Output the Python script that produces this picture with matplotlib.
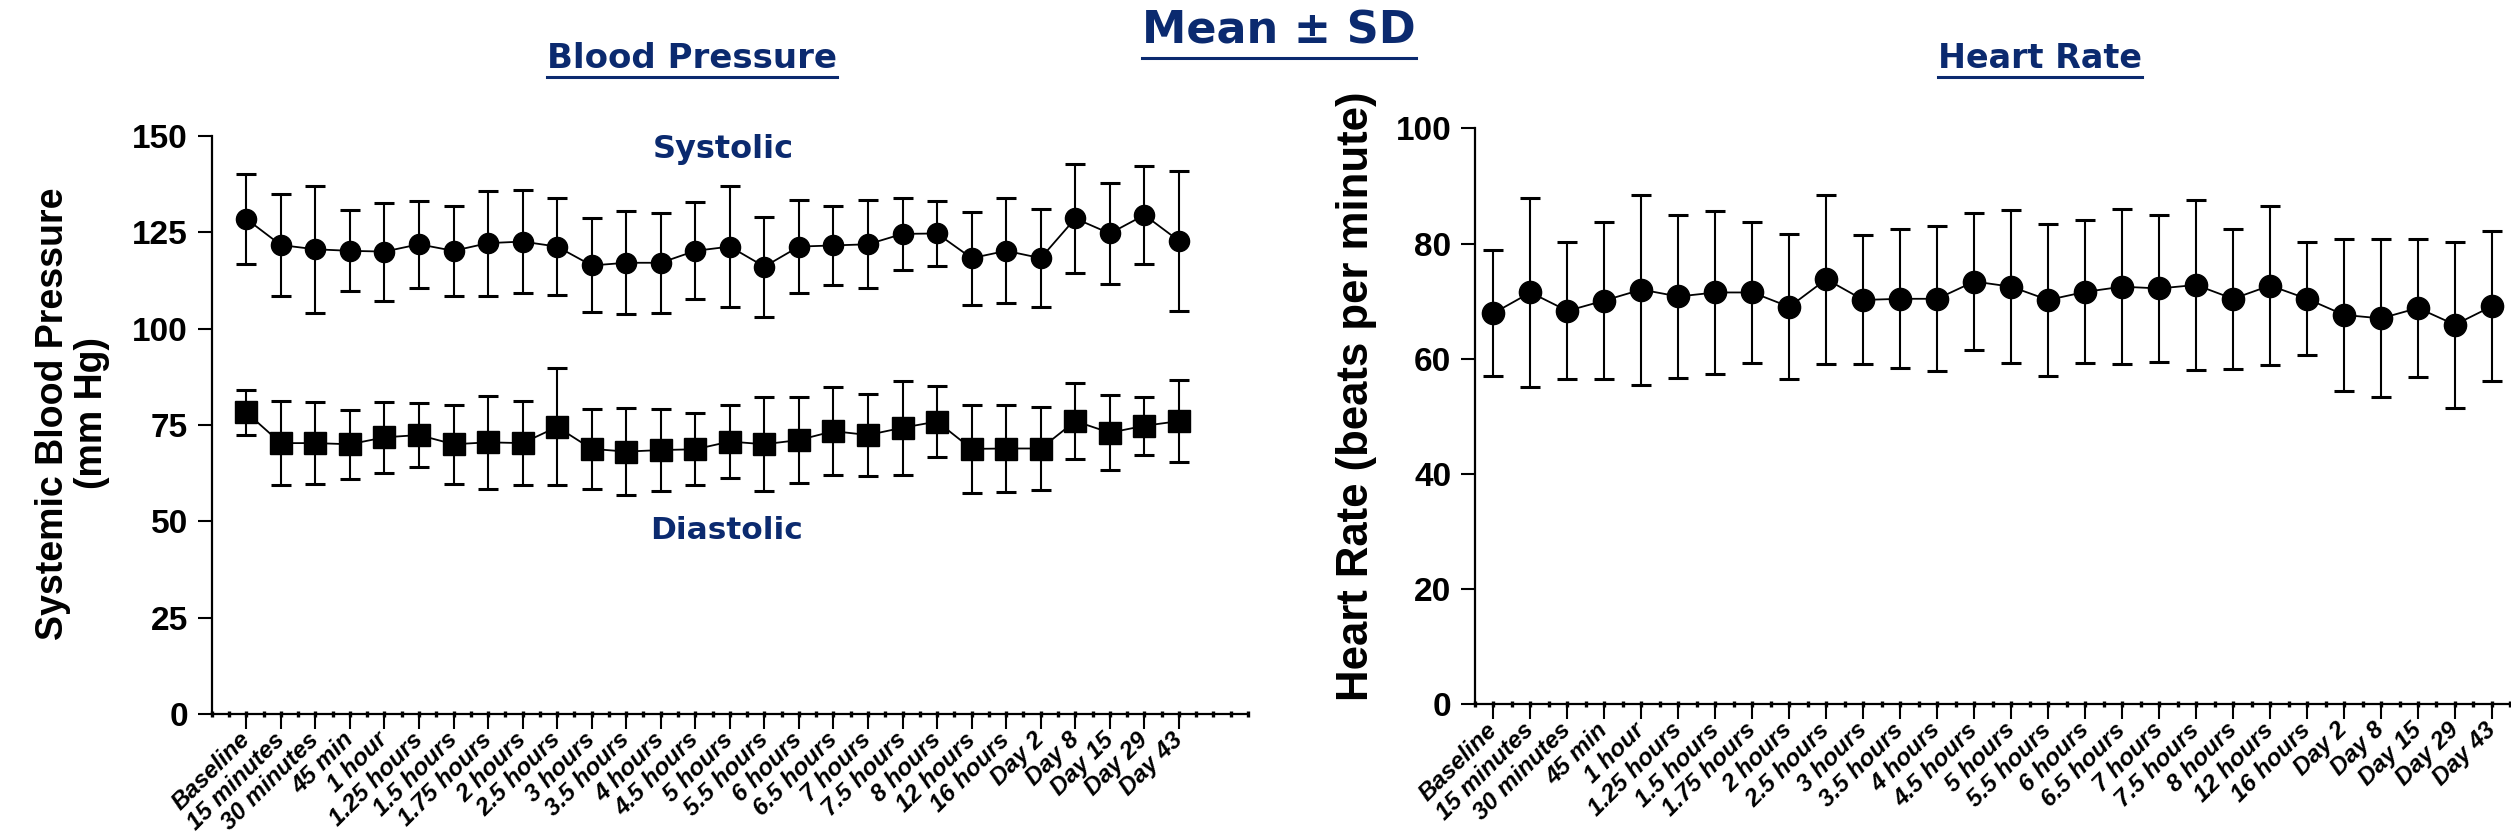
import numpy as np
import matplotlib.pyplot as plt
from matplotlib.lines import Line2D

time_labels = ['Baseline', '15 minutes', '30 minutes', '45 min', '1 hour', '1.25 hours',
               '1.5 hours', '1.75 hours', '2 hours', '2.5 hours', '3 hours', '3.5 hours',
               '4 hours', '4.5 hours', '5 hours', '5.5 hours', '6 hours', '6.5 hours',
               '7 hours', '7.5 hours', '8 hours', '12 hours', '16 hours', 'Day 2',
               'Day 8', 'Day 15', 'Day 29', 'Day 43']

sys_mean = [128.5, 121.7, 120.6, 120.2, 120.0, 121.9, 120.2, 122.2, 122.6, 121.3, 116.4, 117.1,
            117.1, 120.2, 121.3, 116.1, 121.3, 121.6, 121.9, 124.6, 124.7, 118.3, 120.2, 118.3,
            128.6, 124.7, 129.5, 122.8]
sys_sd = [11.6, 13.3, 16.5, 10.5, 12.7, 11.3, 11.7, 13.6, 13.3, 12.6, 12.2, 13.4,
          13.0, 12.6, 15.7, 13.0, 12.1, 10.3, 11.4, 9.3, 8.5, 12.1, 13.6, 12.8,
          14.2, 13.0, 12.8, 18.2]

dia_mean = [78.3, 70.3, 70.3, 70.0, 71.8, 72.4, 70.0, 70.5, 70.3, 74.5, 68.8, 68.1,
            68.5, 68.7, 70.7, 70.0, 71.1, 73.4, 72.4, 74.3, 75.9, 68.8, 68.9, 68.9,
            76.0, 73.0, 74.8, 76.0]
dia_sd = [5.8, 11.0, 10.7, 9.0, 9.2, 8.4, 10.3, 12.0, 11.0, 15.2, 10.4, 11.2,
          10.6, 9.4, 9.4, 12.2, 11.2, 11.4, 10.7, 12.2, 9.3, 11.5, 11.3, 10.8,
          9.8, 9.8, 7.5, 10.7]

hr_mean = [67.9, 71.5, 68.3, 70.1, 72.0, 70.8, 71.5, 71.5, 69.0, 73.8, 70.2, 70.4,
           70.4, 73.4, 72.5, 70.2, 71.6, 72.5, 72.2, 72.8, 70.4, 72.7, 70.4, 67.6,
           67.0, 68.8, 65.9, 69.1]
hr_sd = [10.9, 16.4, 11.9, 13.6, 16.5, 14.2, 14.2, 12.2, 12.6, 14.7, 11.2, 12.1,
         12.6, 11.9, 13.3, 13.2, 12.4, 13.5, 12.7, 14.7, 12.2, 13.8, 9.8, 13.2,
         13.7, 11.9, 14.4, 13.0]

navy = '#0b2a6f'
plt.rcParams['font.family'] = ['Liberation Sans', 'DejaVu Sans']

W, H = 2511, 839
fig = plt.figure(figsize=(W / 100, H / 100), dpi=100)


def px_axes(x0, x1, y_top, y_bot):
    return fig.add_axes([x0 / W, 1 - y_bot / H, (x1 - x0) / W, (y_bot - y_top) / H])


def style(ax, xlim, yticks):
    x = np.arange(len(time_labels))
    ax.set_xlim(*xlim)
    ax.set_ylim(yticks[0], yticks[-1])
    ax.spines[['top', 'right']].set_visible(False)
    for s in ('left', 'bottom'):
        ax.spines[s].set_linewidth(1.6)
    ax.set_xticks(x)
    ax.set_xticklabels(time_labels, rotation=45, ha='right', va='center',
                       rotation_mode='anchor', fontsize=17.5,
                       fontweight='bold', fontstyle='italic')
    ax.set_xticks(np.arange(xlim[0], xlim[1] + 0.01, 0.5), minor=True)
    ax.xaxis.remove_overlapping_locs = False
    ax.tick_params(axis='x', which='major', direction='out', length=11, width=1.5, pad=5)
    ax.tick_params(axis='x', which='minor', direction='inout', length=5, width=2.4)
    ax.set_yticks(yticks)
    ax.tick_params(axis='y', which='major', length=10, width=1.5, labelsize=24, pad=7)
    for t in ax.get_yticklabels():
        t.set_fontweight('bold')


x = np.arange(len(time_labels))
eb = dict(color='black', ecolor='black', lw=1.3, elinewidth=1.5, capsize=7, capthick=2.2)

# Blood pressure
ax1 = px_axes(211.7, 1248, 136, 714)
style(ax1, (-1, 29), [0, 25, 50, 75, 100, 125, 150])
ax1.errorbar(x, sys_mean, yerr=sys_sd, fmt='o-', ms=14.5, **eb)
ax1.errorbar(x, dia_mean, yerr=dia_sd, fmt='s-', ms=16, **eb)
ax1.set_ylabel('Systemic Blood Pressure\n(mm Hg)', fontsize=27, fontweight='bold', linespacing=1.1)
ax1.yaxis.set_label_coords(-0.098, 0.52)
ax1.text(13.8, 146.5, 'Systolic', color=navy, fontsize=23, fontweight='bold',
         family='DejaVu Sans', ha='center', va='center')
ax1.text(13.9, 47.5, 'Diastolic', color=navy, fontsize=22.5, fontweight='bold',
         family='DejaVu Sans', ha='center', va='center')

# Heart rate
ax2 = px_axes(1475, 1475 + 30 * 36.98, 128.3, 704.3)
style(ax2, (-0.5, 29.5), [0, 20, 40, 60, 80, 100])
ax2.errorbar(x, hr_mean, yerr=hr_sd, fmt='o-', ms=16, **eb)
ax2.set_ylabel('Heart Rate (beats per minute)', fontsize=31.5, fontweight='bold')
ax2.yaxis.set_label_coords(-0.088, 0.535)

# titles
titles = [('Mean ± SD', 1279, 44, 32, 58),
          ('Blood Pressure', 692, 68, 24.5, 77),
          ('Heart Rate', 2040, 68, 24, 77)]
txts = []
for s, cx, base, fs, uy in titles:
    t = fig.text(cx / W, 1 - base / H, s, ha='center', va='baseline', fontsize=fs,
                 fontweight='bold', color=navy, family='DejaVu Sans')
    txts.append((t, uy))

fig.canvas.draw()
inv = fig.transFigure.inverted()
for t, uy in txts:
    bb = t.get_window_extent()
    (fx0, _), (fx1, _) = inv.transform([(bb.x0, 0), (bb.x1, 0)])
    fig.add_artist(Line2D([fx0, fx1], [1 - uy / H, 1 - uy / H], color=navy, lw=2.2))

fig.savefig('out.png', dpi=100)
